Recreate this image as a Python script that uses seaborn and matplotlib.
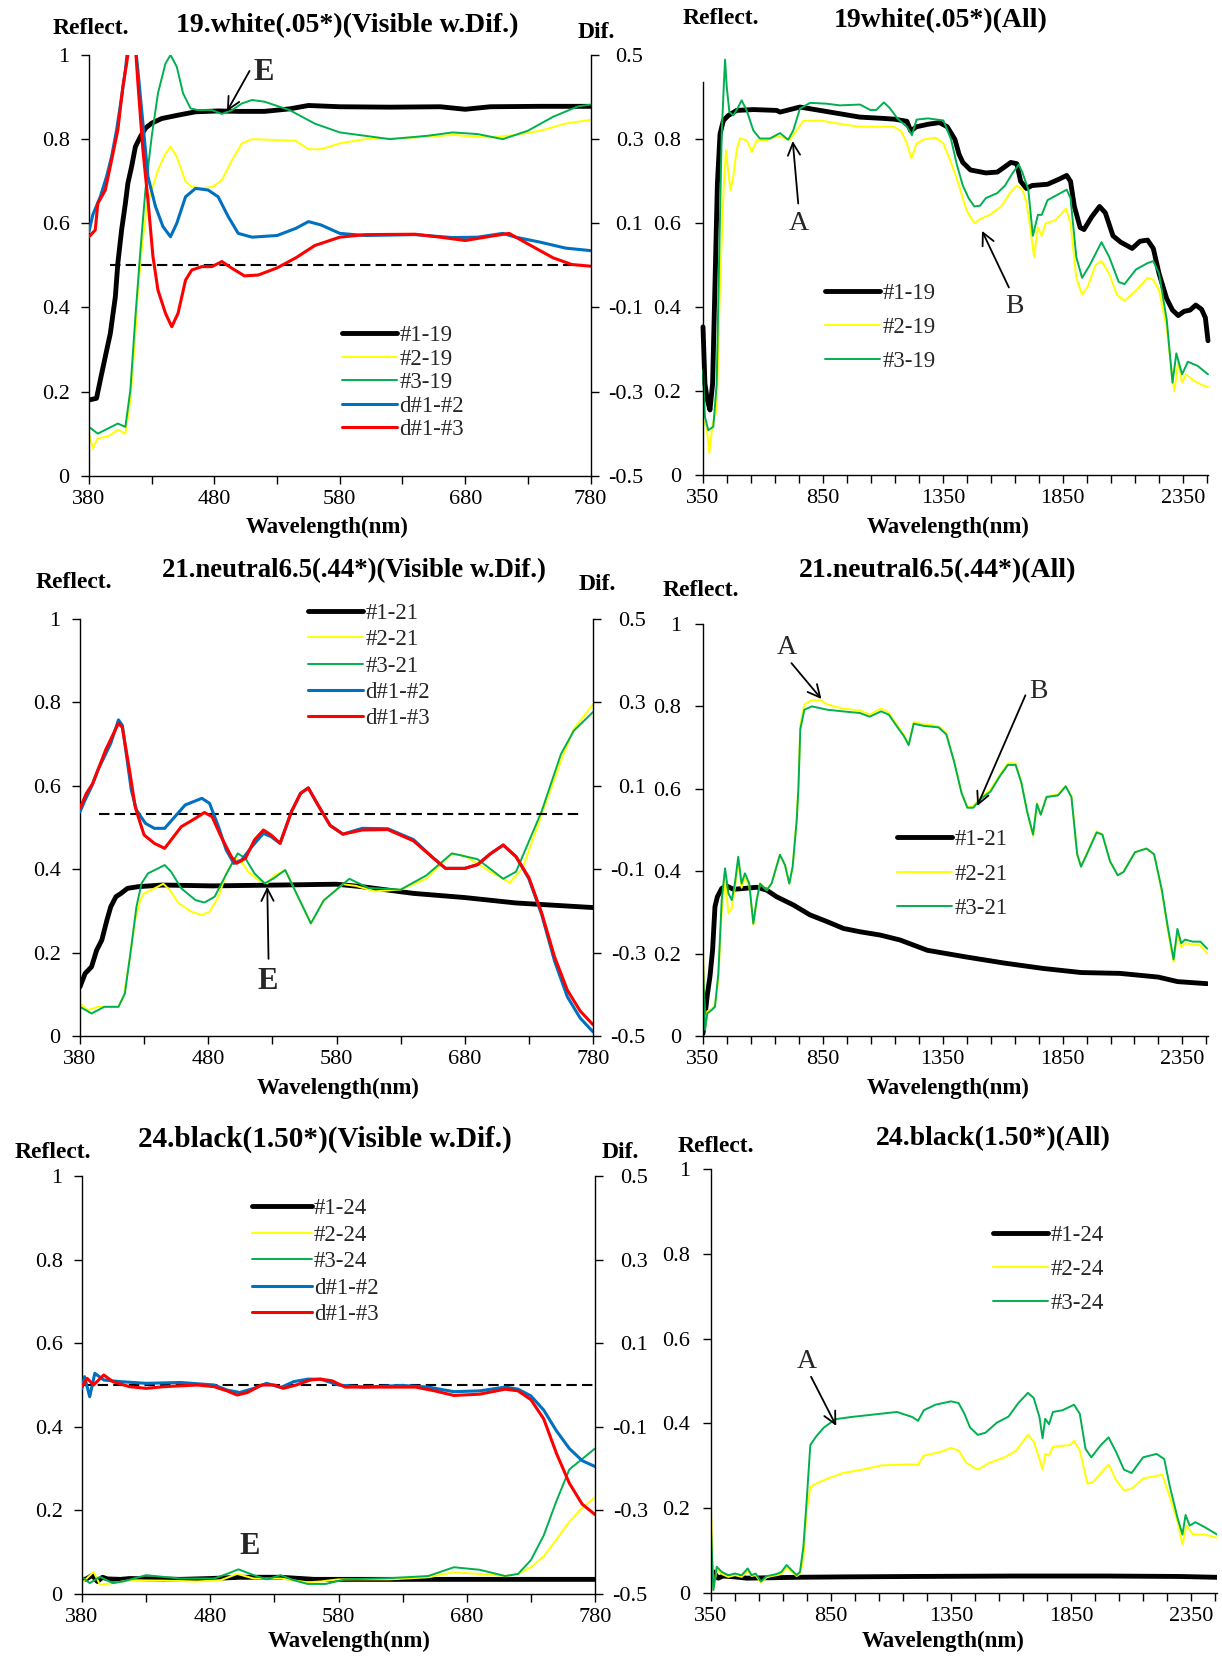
import matplotlib
matplotlib.use("Agg")
import matplotlib.pyplot as plt
import seaborn as sns

W, H = 1222, 1657
SERIF = ["Liberation Serif", "DejaVu Serif"]

C_BLACK, C_YELLOW, C_GREEN = "#000000", "#FFFF00", "#00B050"
C_BLUE, C_RED = "#0070C0", "#FF0000"

# ---------------- tick labels ----------------
vis_ticks = [380, 430, 480, 530, 580, 630, 680, 730, 780]
vis_labels = ["380", "", "480", "", "580", "", "680", "", "780"]
all_ticks = list(range(350, 2451, 100))
all_labels = ["350", "", "", "", "", "850", "", "", "", "", "1350", "", "", "", "",
              "1850", "", "", "", "", "2350", ""]
refl_ticks = [0, 0.2, 0.4, 0.6, 0.8, 1.0]
refl_labels = ["0", "0.2", "0.4", "0.6", "0.8", "1"]
dif_ticks = [-0.5, -0.3, -0.1, 0.1, 0.3, 0.5]
dif_labels = ["-0.5", "-0.3", "-0.1", "0.1", "0.3", "0.5"]

# ---------------- 19 white, visible ----------------
w19_k1_wl = [380, 386, 389, 393, 397, 401, 403, 406, 409, 411, 414, 417, 421, 425, 430,
             438, 451, 465, 483, 500, 520, 540, 555, 580, 620, 660, 680, 700, 740, 780]
w19_k1 = [0.18, 0.184, 0.227, 0.283, 0.338, 0.425, 0.505, 0.584, 0.647, 0.695, 0.735, 0.782, 0.806, 0.826, 0.838,
          0.849, 0.857, 0.865, 0.867, 0.866, 0.866, 0.872, 0.88, 0.877, 0.876, 0.877, 0.871, 0.877, 0.878, 0.878]
w19_k2_wl = [380, 383, 387, 395, 403, 409, 413, 417, 419, 422, 426, 430, 435, 441, 445,
             450, 457, 462, 469, 479, 486, 494, 502, 510, 530, 545, 555, 565, 580, 600,
             640, 670, 700, 720, 740, 760, 780]
w19_k2 = [0.10, 0.065, 0.089, 0.093, 0.109, 0.10, 0.18, 0.338, 0.441, 0.536, 0.639, 0.679, 0.727, 0.766, 0.782,
          0.758, 0.699, 0.687, 0.683, 0.687, 0.703, 0.75, 0.79, 0.80, 0.798, 0.796, 0.776, 0.776, 0.79, 0.80,
          0.804, 0.81, 0.804, 0.81, 0.82, 0.837, 0.846]
w19_k3_wl = [380, 387, 393, 403, 409, 413, 417, 421, 425, 430, 435, 441, 445, 450, 455,
             461, 467, 478, 486, 494, 502, 510, 520, 540, 560, 580, 600, 620, 650, 670,
             690, 710, 730, 750, 770, 780]
w19_k3 = [0.116, 0.10, 0.109, 0.124, 0.116, 0.204, 0.378, 0.536, 0.679, 0.806, 0.909, 0.98, 1.0, 0.972, 0.909,
          0.873, 0.869, 0.869, 0.86, 0.869, 0.885, 0.893, 0.889, 0.869, 0.837, 0.816, 0.808, 0.80, 0.808, 0.816,
          0.812, 0.80, 0.82, 0.853, 0.878, 0.882]
w19_d12_wl = [380, 383, 389, 394, 398, 402, 406, 409, 411, 417, 419, 423, 427, 433, 439,
              445, 450, 457, 465, 475, 483, 491, 499, 510, 530, 545, 555, 565, 580, 600,
              640, 670, 690, 710, 720, 740, 760, 780]
w19_d12 = [0.08, 0.12, 0.163, 0.211, 0.258, 0.322, 0.40, 0.464, 0.52, 0.52, 0.464, 0.338, 0.211, 0.14, 0.092,
           0.068, 0.10, 0.163, 0.183, 0.179, 0.163, 0.116, 0.076, 0.067, 0.071, 0.088, 0.104, 0.096, 0.076, 0.071,
           0.073, 0.066, 0.067, 0.076, 0.067, 0.055, 0.041, 0.035]
w19_d13_wl = [380, 385, 387, 393, 398, 403, 407, 410, 412, 417, 419, 423, 427, 431, 435,
              441, 446, 451, 457, 462, 470, 478, 486, 494, 504, 515, 530, 545, 560, 580,
              600, 640, 660, 680, 700, 715, 730, 750, 765, 780]
w19_d13 = [0.068, 0.084, 0.147, 0.179, 0.25, 0.322, 0.425, 0.48, 0.52, 0.52, 0.433, 0.274, 0.155, 0.021, -0.059,
           -0.114, -0.146, -0.114, -0.035, -0.011, -0.003, -0.003, 0.009, -0.007, -0.025, -0.023, -0.006, 0.018, 0.047, 0.067,
           0.073, 0.074, 0.067, 0.059, 0.069, 0.076, 0.051, 0.018, 0.002, -0.002]

# ---------------- 19 white, all ----------------
a19_k1_wl = [350, 358, 368, 379, 390, 400, 410, 421, 435, 456, 490, 560, 657, 671, 754,
             838, 921, 1004, 1100, 1150, 1200, 1216, 1240, 1288, 1336, 1368, 1400, 1417, 1433, 1465,
             1529, 1577, 1609, 1633, 1658, 1674, 1698, 1722, 1786, 1834, 1866, 1882, 1898, 1922, 1938,
             1970, 2003, 2027, 2059, 2091, 2139, 2171, 2203, 2227, 2251, 2283, 2307, 2331, 2355, 2380,
             2404, 2428, 2444, 2455]
a19_k1 = [0.353, 0.218, 0.179, 0.155, 0.218, 0.456, 0.694, 0.813, 0.845, 0.857, 0.869, 0.871, 0.869, 0.865, 0.877,
          0.869, 0.861, 0.853, 0.85, 0.848, 0.843, 0.82, 0.83, 0.836, 0.84, 0.83, 0.80, 0.765, 0.745, 0.727,
          0.72, 0.722, 0.735, 0.745, 0.742, 0.70, 0.683, 0.69, 0.693, 0.705, 0.714, 0.70, 0.64, 0.59, 0.585,
          0.615, 0.64, 0.625, 0.57, 0.555, 0.54, 0.557, 0.56, 0.54, 0.48, 0.42, 0.393, 0.38, 0.39, 0.393,
          0.405, 0.395, 0.375, 0.32]
a19_k2_wl = [350, 365, 376, 390, 407, 421, 437, 446, 456, 465, 476, 490, 504, 532, 553,
             574, 615, 657, 685, 712, 740, 768, 838, 921, 990, 1048, 1144, 1176, 1200, 1219,
             1240, 1272, 1320, 1352, 1384, 1417, 1449, 1481, 1505, 1545, 1593, 1633, 1658, 1682, 1698,
             1714, 1730, 1746, 1762, 1778, 1818, 1863, 1882, 1906, 1930, 1954, 1986, 2011, 2043, 2075,
             2107, 2155, 2203, 2227, 2251, 2283, 2307, 2315, 2331, 2347, 2363, 2395, 2428, 2455]
a19_k2 = [0.131, 0.115, 0.052, 0.123, 0.155, 0.456, 0.694, 0.774, 0.718, 0.679, 0.71, 0.774, 0.802, 0.798, 0.77,
          0.798, 0.798, 0.807, 0.804, 0.799, 0.821, 0.844, 0.845, 0.837, 0.831, 0.83, 0.83, 0.82, 0.79, 0.755,
          0.79, 0.80, 0.804, 0.79, 0.745, 0.69, 0.63, 0.60, 0.61, 0.62, 0.64, 0.675, 0.69, 0.68, 0.65,
          0.59, 0.52, 0.59, 0.57, 0.60, 0.607, 0.635, 0.60, 0.47, 0.43, 0.45, 0.50, 0.51, 0.48, 0.43,
          0.415, 0.44, 0.47, 0.465, 0.44, 0.35, 0.23, 0.20, 0.27, 0.22, 0.24, 0.225, 0.215, 0.21]
a19_k3_wl = [350, 358, 372, 393, 407, 418, 428, 437, 442, 449, 460, 476, 493, 511, 532,
             560, 587, 629, 671, 705, 726, 754, 796, 865, 921, 1004, 1048, 1072, 1104, 1128,
             1160, 1200, 1221, 1240, 1288, 1352, 1384, 1408, 1433, 1457, 1481, 1505, 1529, 1577, 1609,
             1641, 1666, 1682, 1706, 1725, 1746, 1762, 1786, 1834, 1866, 1882, 1906, 1930, 1962, 2011,
             2043, 2083, 2107, 2155, 2203, 2227, 2251, 2283, 2307, 2323, 2347, 2371, 2412, 2455]
a19_k3 = [0.25, 0.139, 0.107, 0.115, 0.218, 0.536, 0.813, 0.932, 0.99, 0.925, 0.865, 0.857, 0.873, 0.893, 0.869,
          0.821, 0.802, 0.802, 0.815, 0.799, 0.821, 0.873, 0.887, 0.885, 0.881, 0.883, 0.87, 0.87, 0.888, 0.875,
          0.85, 0.83, 0.81, 0.847, 0.85, 0.845, 0.80, 0.74, 0.69, 0.66, 0.64, 0.642, 0.66, 0.672, 0.69,
          0.72, 0.74, 0.72, 0.68, 0.57, 0.62, 0.62, 0.655, 0.67, 0.68, 0.66, 0.52, 0.47, 0.50, 0.555,
          0.52, 0.46, 0.455, 0.49, 0.505, 0.51, 0.48, 0.37, 0.22, 0.29, 0.24, 0.27, 0.26, 0.24]

# ---------------- 21 neutral 6.5, visible ----------------
n21_k1_wl = [380, 384, 389, 393, 397, 401, 404, 408, 412, 417, 425, 444, 483, 535, 580, 600, 640, 680, 720, 780]
n21_k1 = [0.118, 0.15, 0.166, 0.206, 0.23, 0.278, 0.31, 0.334, 0.342, 0.354,
          0.358, 0.362, 0.36, 0.362, 0.364, 0.358, 0.342, 0.332, 0.319, 0.308]
n21_k2_wl = [380, 386, 394, 404, 410, 414, 419, 423, 427, 430, 438, 445, 450, 457, 467,
             475, 481, 488, 494, 501, 506, 511, 519, 526, 532, 540, 550, 560, 570, 585,
             595, 610, 630, 650, 670, 680, 700, 715, 725, 740, 755, 765, 780]
n21_k2 = [0.078, 0.062, 0.07, 0.07, 0.07, 0.094, 0.19, 0.278, 0.326, 0.342, 0.354, 0.365, 0.35, 0.318, 0.298,
          0.29, 0.298, 0.334, 0.39, 0.426, 0.418, 0.394, 0.374, 0.366, 0.386, 0.398, 0.334, 0.27, 0.325, 0.364,
          0.36, 0.347, 0.351, 0.377, 0.437, 0.432, 0.394, 0.368, 0.402, 0.531, 0.66, 0.736, 0.795]
n21_k3_wl = [380, 389, 399, 410, 415, 420, 424, 428, 433, 441, 446, 451, 459, 470, 477,
             485, 493, 500, 503, 509, 516, 524, 531, 540, 550, 560, 570, 590, 605, 630,
             650, 670, 690, 710, 720, 740, 755, 765, 780]
n21_k3 = [0.07, 0.054, 0.07, 0.07, 0.102, 0.214, 0.31, 0.366, 0.39, 0.402, 0.41, 0.394, 0.354, 0.326, 0.32,
          0.334, 0.382, 0.422, 0.438, 0.426, 0.39, 0.366, 0.378, 0.398, 0.334, 0.27, 0.325, 0.377, 0.355, 0.351,
          0.385, 0.438, 0.424, 0.377, 0.394, 0.539, 0.676, 0.732, 0.777]
n21_d12_wl = [380, 384, 389, 394, 399, 404, 410, 413, 420, 424, 431, 438, 446, 454, 462,
              475, 481, 488, 494, 500, 506, 514, 523, 529, 536, 545, 552, 558, 565, 575,
              585, 600, 620, 640, 655, 665, 680, 690, 700, 710, 720, 730, 740, 750, 760,
              770, 780]
n21_d12 = [0.038, 0.066, 0.098, 0.138, 0.17, 0.202, 0.258, 0.245, 0.09, 0.042, 0.01, -0.002, -0.002, 0.026, 0.054,
           0.07, 0.058, 0.002, -0.054, -0.086, -0.078, -0.046, -0.014, -0.022, -0.038, 0.039, 0.082, 0.095, 0.057, 0.005,
           -0.016, -0.002, -0.003, -0.029, -0.072, -0.098, -0.098, -0.089, -0.063, -0.042, -0.07, -0.123, -0.209, -0.32, -0.406,
           -0.457, -0.49]
n21_d13_wl = [380, 385, 390, 395, 400, 410, 413, 419, 423, 427, 430, 438, 446, 451, 459,
              470, 477, 483, 490, 498, 502, 509, 516, 523, 529, 536, 545, 552, 558, 565,
              575, 585, 600, 620, 640, 655, 665, 680, 690, 700, 710, 720, 730, 740, 750,
              760, 770, 780]
n21_d13 = [0.046, 0.082, 0.106, 0.146, 0.186, 0.25, 0.24, 0.13, 0.05, 0.01, -0.018, -0.038, -0.05, -0.03, 0.002,
           0.022, 0.036, 0.026, -0.022, -0.07, -0.086, -0.074, -0.03, -0.006, -0.018, -0.038, 0.039, 0.082, 0.095, 0.057,
           0.005, -0.016, -0.006, -0.005, -0.032, -0.072, -0.098, -0.098, -0.089, -0.063, -0.042, -0.07, -0.12, -0.205, -0.31,
           -0.39, -0.44, -0.473]

# ---------------- 21 neutral 6.5, all ----------------
m21_k1_wl = [350, 358, 368, 379, 390, 400, 410, 428, 449, 477, 518, 574, 616, 657, 727,
             796, 866, 936, 1005, 1089, 1172, 1286, 1446, 1607, 1768, 1928, 2089, 2249, 2330, 2453]
m21_k1 = [0.006, 0.047, 0.10, 0.144, 0.209, 0.314, 0.338, 0.358, 0.364, 0.356, 0.358, 0.361, 0.354, 0.338, 0.318,
          0.294, 0.278, 0.261, 0.253, 0.245, 0.233, 0.208, 0.192, 0.177, 0.164, 0.154, 0.152, 0.143, 0.132, 0.127]
m21_k2_wl = [350, 358, 368, 386, 400, 414, 428, 442, 456, 470, 483, 497, 511, 525, 543,
             560, 574, 588, 602, 616, 636, 671, 692, 710, 724, 741, 748, 756, 773, 804,
             840, 868, 932, 1005, 1045, 1093, 1125, 1157, 1189, 1208, 1229, 1269, 1333, 1365, 1397,
             1429, 1453, 1477, 1509, 1549, 1590, 1622, 1654, 1678, 1702, 1727, 1743, 1759, 1783, 1831,
             1863, 1887, 1911, 1927, 1951, 1992, 2016, 2048, 2080, 2104, 2152, 2200, 2232, 2264, 2288,
             2313, 2329, 2345, 2361, 2393, 2425, 2453]
m21_k2 = [0.21, 0.02, 0.06, 0.065, 0.075, 0.14, 0.30, 0.38, 0.298, 0.31, 0.36, 0.42, 0.36, 0.385, 0.365,
          0.27, 0.33, 0.37, 0.362, 0.354, 0.37, 0.44, 0.415, 0.37, 0.411, 0.53, 0.61, 0.755, 0.805, 0.815,
          0.815, 0.805, 0.795, 0.79, 0.78, 0.795, 0.785, 0.757, 0.73, 0.708, 0.762, 0.757, 0.752, 0.735, 0.668,
          0.59, 0.556, 0.558, 0.58, 0.598, 0.636, 0.662, 0.662, 0.617, 0.545, 0.485, 0.565, 0.537, 0.582, 0.586,
          0.607, 0.582, 0.441, 0.411, 0.443, 0.497, 0.49, 0.424, 0.39, 0.398, 0.446, 0.455, 0.441, 0.35, 0.26,
          0.18, 0.25, 0.215, 0.225, 0.222, 0.22, 0.20]
m21_k3_wl = [350, 358, 368, 386, 400, 414, 428, 442, 456, 470, 483, 497, 511, 525, 543,
             560, 574, 588, 602, 616, 636, 671, 692, 710, 724, 741, 748, 756, 773, 804,
             868, 932, 1005, 1045, 1093, 1125, 1157, 1189, 1208, 1229, 1269, 1333, 1365, 1397, 1429,
             1453, 1477, 1509, 1549, 1590, 1622, 1654, 1678, 1702, 1727, 1743, 1759, 1783, 1831, 1863,
             1887, 1911, 1927, 1951, 1992, 2016, 2048, 2080, 2104, 2152, 2200, 2232, 2264, 2288, 2313,
             2329, 2345, 2361, 2393, 2425, 2453]
m21_k3 = [0.18, 0.015, 0.055, 0.063, 0.071, 0.152, 0.33, 0.407, 0.346, 0.33, 0.37, 0.435, 0.37, 0.395, 0.37,
          0.273, 0.33, 0.37, 0.362, 0.354, 0.37, 0.44, 0.415, 0.37, 0.411, 0.524, 0.60, 0.745, 0.792, 0.80,
          0.792, 0.788, 0.784, 0.775, 0.788, 0.78, 0.753, 0.727, 0.706, 0.758, 0.753, 0.749, 0.732, 0.667, 0.589,
          0.554, 0.554, 0.576, 0.593, 0.632, 0.658, 0.658, 0.615, 0.545, 0.489, 0.563, 0.537, 0.58, 0.584, 0.606,
          0.58, 0.441, 0.411, 0.441, 0.494, 0.489, 0.424, 0.39, 0.398, 0.446, 0.455, 0.441, 0.355, 0.268, 0.186,
          0.26, 0.225, 0.234, 0.229, 0.229, 0.212]

# ---------------- 24 black, visible ----------------
b24_k1_wl = [380, 384, 388, 392, 396, 400, 410, 417, 440, 457, 480, 503, 535, 561, 600, 650, 700, 740, 780]
b24_k1 = [0.033, 0.037, 0.045, 0.03, 0.04, 0.036, 0.035, 0.037, 0.036, 0.035,
          0.037, 0.04, 0.04, 0.035, 0.035, 0.035, 0.035, 0.035, 0.035]
b24_k2_wl = [380, 389, 394, 404, 417, 444, 470, 488, 501, 514, 535, 556, 566, 580, 620,
             650, 670, 690, 710, 720, 730, 740, 750, 760, 770, 780]
b24_k2 = [0.026, 0.053, 0.022, 0.026, 0.033, 0.032, 0.03, 0.033, 0.048, 0.037, 0.037, 0.028, 0.03, 0.035, 0.035,
          0.04, 0.052, 0.048, 0.043, 0.048, 0.064, 0.09, 0.131, 0.173, 0.206, 0.231]
b24_k3_wl = [380, 386, 394, 404, 412, 430, 457, 483, 493, 502, 514, 524, 535, 545, 556,
             570, 585, 620, 650, 670, 690, 710, 720, 730, 740, 750, 760, 770, 780]
b24_k3 = [0.041, 0.026, 0.041, 0.026, 0.03, 0.045, 0.037, 0.037, 0.048, 0.059, 0.045, 0.035, 0.045, 0.033, 0.024,
          0.024, 0.035, 0.038, 0.043, 0.064, 0.058, 0.043, 0.048, 0.081, 0.14, 0.223, 0.298, 0.323, 0.348]
b24_d12_wl = [380, 382, 386, 390, 397, 410, 430, 457, 483, 493, 503, 514, 524, 535, 545,
              556, 566, 580, 600, 630, 650, 670, 690, 710, 720, 730, 740, 750, 760, 770, 780]
b24_d12 = [-0.008, 0.02, -0.028, 0.028, 0.012, 0.008, 0.004, 0.006, 0.0, -0.012, -0.018, -0.008, 0.004, -0.006, 0.008,
           0.014, 0.014, 0.0, -0.005, -0.001, -0.005, -0.016, -0.014, -0.005, -0.01, -0.026, -0.06, -0.11, -0.152, -0.181,
           -0.195]
b24_d13_wl = [380, 384, 389, 397, 404, 417, 430, 444, 470, 483, 493, 501, 509, 520, 530,
              537, 547, 558, 566, 575, 585, 610, 640, 655, 670, 690, 710, 720, 730, 740,
              750, 760, 770, 780]
b24_d13 = [-0.004, 0.016, 0.0, 0.024, 0.008, -0.004, -0.008, -0.004, 0.0, -0.004, -0.014, -0.024, -0.018, 0.0, 0.0,
           -0.008, 0.0, 0.012, 0.014, 0.01, -0.005, -0.005, -0.005, -0.014, -0.025, -0.022, -0.01, -0.014, -0.035, -0.081,
           -0.164, -0.235, -0.285, -0.31]

# ---------------- 24 black, all ----------------
c24_k1_wl = [350, 360, 380, 400, 450, 500, 600, 700, 900, 1200, 1600, 2000, 2300, 2459]
c24_k1 = [0.03, 0.05, 0.035, 0.04, 0.038, 0.035, 0.036, 0.037, 0.038, 0.039, 0.04, 0.04, 0.039, 0.037]
c24_k2_wl = [350, 360, 374, 394, 422, 450, 478, 503, 519, 536, 558, 582, 603, 624, 644,
             665, 686, 707, 721, 735, 748, 764, 788, 836, 900, 981, 1061, 1157, 1213, 1237,
             1301, 1350, 1382, 1414, 1462, 1510, 1574, 1622, 1671, 1695, 1719, 1732, 1743, 1759, 1775,
             1847, 1863, 1887, 1919, 1943, 2007, 2039, 2071, 2103, 2151, 2231, 2263, 2295, 2315, 2331,
             2360, 2409, 2459]
c24_k2 = [0.20, 0.01, 0.055, 0.045, 0.038, 0.042, 0.038, 0.052, 0.04, 0.042, 0.025, 0.037, 0.04, 0.042, 0.045,
          0.06, 0.05, 0.04, 0.045, 0.08, 0.19, 0.25, 0.258, 0.27, 0.283, 0.291, 0.301, 0.303, 0.303, 0.324,
          0.332, 0.342, 0.336, 0.307, 0.291, 0.307, 0.32, 0.336, 0.373, 0.357, 0.316, 0.291, 0.328, 0.324, 0.345,
          0.349, 0.359, 0.336, 0.258, 0.262, 0.303, 0.266, 0.242, 0.246, 0.27, 0.279, 0.225, 0.167, 0.114, 0.159,
          0.138, 0.138, 0.13]
c24_k3_wl = [350, 360, 374, 394, 422, 450, 478, 503, 519, 536, 558, 582, 603, 624, 644,
             665, 686, 707, 721, 735, 749, 764, 788, 820, 869, 933, 997, 1061, 1125, 1189,
             1213, 1237, 1285, 1350, 1382, 1406, 1430, 1462, 1494, 1542, 1590, 1631, 1671, 1695, 1719,
             1732, 1743, 1759, 1775, 1815, 1863, 1887, 1911, 1935, 1975, 2007, 2039, 2071, 2103, 2151,
             2207, 2239, 2263, 2295, 2315, 2328, 2345, 2369, 2409, 2459]
c24_k3 = [0.15, 0.007, 0.062, 0.05, 0.042, 0.046, 0.042, 0.058, 0.042, 0.046, 0.027, 0.04, 0.042, 0.045, 0.05,
          0.066, 0.054, 0.042, 0.05, 0.109, 0.22, 0.349, 0.369, 0.39, 0.41, 0.415, 0.419, 0.423, 0.427, 0.415,
          0.406, 0.431, 0.444, 0.452, 0.448, 0.423, 0.39, 0.373, 0.378, 0.402, 0.416, 0.448, 0.472, 0.46, 0.415,
          0.365, 0.411, 0.398, 0.427, 0.431, 0.444, 0.423, 0.34, 0.32, 0.349, 0.367, 0.332, 0.291, 0.283, 0.32,
          0.328, 0.316, 0.25, 0.176, 0.138, 0.184, 0.159, 0.167, 0.155, 0.138]

# ---------------- style ----------------
sns.set_theme(style="ticks", rc={"axes.edgecolor": "black", "xtick.color": "black",
                                 "ytick.color": "black", "axes.linewidth": 1.0})
plt.rcParams["font.family"] = SERIF

fig = plt.figure(figsize=(W / 100, H / 100), dpi=100)
fig.patch.set_facecolor("white")

TICK_SIZE = 16
LEG_SIZE = 16.5


def px_rect(l, t, r, b):
    return [l / W, 1 - b / H, (r - l) / W, (b - t) / H]


def ftext(px, py, s, size, bold=True, **kw):
    fig.text(px / W, 1 - py / H, s, ha="center", va="center", fontsize=size,
             fontweight="bold" if bold else "normal", family=SERIF, color="black", **kw)


def make_axes(rect, xlim, xticks, xlabels, ylim, ypad):
    ax = fig.add_axes(rect)
    ax.set_xlim(*xlim)
    ax.set_ylim(*ylim)
    ax.set_xticks(xticks)
    ax.set_xticklabels(xlabels)
    yt = [v for v in refl_ticks if v <= ylim[1] + 1e-9]
    ax.set_yticks(yt)
    ax.set_yticklabels(refl_labels[:len(yt)])
    for s in ("top", "right"):
        ax.spines[s].set_visible(False)
    ax.tick_params(axis="both", direction="out", length=6, width=1, labelsize=TICK_SIZE)
    ax.tick_params(axis="y", pad=ypad)
    ax.tick_params(axis="x", pad=4)
    ax.set_facecolor("none")
    return ax


def make_dif(ax):
    ax2 = ax.twinx()
    ax2.set_ylim(-0.5, 0.5)
    ax2.set_yticks(dif_ticks)
    ax2.set_yticklabels(dif_labels)
    for s in ("top", "left", "bottom"):
        ax2.spines[s].set_visible(False)
    ax2.tick_params(axis="y", direction="out", length=6, width=1, labelsize=TICK_SIZE, pad=32)
    for t in ax2.get_yticklabels():
        t.set_horizontalalignment("right")
    return ax2


def line(ax, x, y, color, lw, label, clip=True):
    sns.lineplot(x=x, y=y, ax=ax, color=color, lw=lw, label=label, legend=False,
                 estimator=None, errorbar=None, clip_on=clip)


def arrow(ax, tail, tip):
    ax.annotate("", xy=tip, xytext=tail,
                arrowprops=dict(arrowstyle="->", color="black", lw=1.3,
                                mutation_scale=22, shrinkA=0, shrinkB=0))


def legend(ax, handles, labels, px, py, spacing, hlen=2.4):
    ax.legend(handles, labels, loc="upper left", bbox_to_anchor=(px / W, 1 - py / H),
              bbox_transform=fig.transFigure, frameon=False, borderpad=0, borderaxespad=0,
              handlelength=hlen, handletextpad=0.1, labelspacing=spacing,
              prop={"family": SERIF, "size": LEG_SIZE})


LW_K, LW_D, LW_T = 3.5, 2.2, 1.4

# ---------------- panel 1 ----------------
ax = make_axes(px_rect(89, 55, 590.6, 475.7), (380, 780), vis_ticks, vis_labels, (0, 1), 8)
line(ax, w19_k1_wl, w19_k1, C_BLACK, LW_K, "#1-19")
line(ax, w19_k2_wl, w19_k2, C_YELLOW, LW_T, "#2-19")
line(ax, w19_k3_wl, w19_k3, C_GREEN, LW_T, "#3-19")
ax2 = make_dif(ax)
ax2.hlines(0.0, 397, 773, colors="black", linestyles=(0, (5, 2.5)), lw=1.5)
line(ax2, w19_d12_wl, w19_d12, C_BLUE, LW_D, "d#1-#2")
line(ax2, w19_d13_wl, w19_d13, C_RED, LW_D, "d#1-#3")
arrow(ax, (508, 0.962), (490, 0.866))
ax.text(519, 0.958, "E", fontsize=22, fontweight="bold", ha="center", va="center")
h1, l1 = ax.get_legend_handles_labels()
h2, l2 = ax2.get_legend_handles_labels()
legend(ax2, h1 + h2, l1 + l2, 342, 325, 0.11)

# ---------------- panel 2 ----------------
ax = make_axes(px_rect(703, 82.3, 1208, 475), (350, 2455), all_ticks, all_labels, (0, 0.936), 10)
line(ax, a19_k1_wl, a19_k1, C_BLACK, LW_K, "#1-19", clip=False)
line(ax, a19_k2_wl, a19_k2, C_YELLOW, LW_T, "#2-19", clip=False)
line(ax, a19_k3_wl, a19_k3, C_GREEN, LW_T, "#3-19", clip=False)
arrow(ax, (747, 0.647), (724, 0.796))
ax.text(751, 0.600, "A", fontsize=20, ha="center", va="center")
arrow(ax, (1625, 0.447), (1513, 0.582))
ax.text(1649, 0.401, "B", fontsize=20, ha="center", va="center")
h1, l1 = ax.get_legend_handles_labels()
legend(ax, h1, l1, 825, 283, 0.56)

# ---------------- panel 3 ----------------
ax = make_axes(px_rect(80, 619, 593, 1036), (380, 780), vis_ticks, vis_labels, (0, 1), 8)
line(ax, n21_k1_wl, n21_k1, C_BLACK, LW_K, "#1-21")
line(ax, n21_k2_wl, n21_k2, C_YELLOW, LW_T, "#2-21")
line(ax, n21_k3_wl, n21_k3, C_GREEN, LW_T, "#3-21")
ax2 = make_dif(ax)
ax2.hlines(0.032, 395, 769, colors="black", linestyles=(0, (5, 2.5)), lw=1.5)
line(ax2, n21_d12_wl, n21_d12, C_BLUE, LW_D, "d#1-#2")
line(ax2, n21_d13_wl, n21_d13, C_RED, LW_D, "d#1-#3")
arrow(ax, (527, 0.185), (526, 0.358))
ax.text(526, 0.13, "E", fontsize=22, fontweight="bold", ha="center", va="center")
h1, l1 = ax.get_legend_handles_labels()
h2, l2 = ax2.get_legend_handles_labels()
legend(ax2, h1 + h2, l1 + l2, 308, 603, 0.23)

# ---------------- panel 4 ----------------
ax = make_axes(px_rect(703, 624, 1207.6, 1036), (350, 2455), all_ticks, all_labels, (0, 1), 10)
line(ax, m21_k1_wl, m21_k1, C_BLACK, LW_K, "#1-21")
line(ax, m21_k2_wl, m21_k2, C_YELLOW, LW_T, "#2-21")
line(ax, m21_k3_wl, m21_k3, C_GREEN, LW_T, "#3-21")
arrow(ax, (719, 0.905), (844, 0.818))
ax.text(700, 0.944, "A", fontsize=20, ha="center", va="center")
arrow(ax, (1695, 0.827), (1494, 0.558))
ax.text(1748, 0.835, "B", fontsize=20, ha="center", va="center")
h1, l1 = ax.get_legend_handles_labels()
legend(ax, h1, l1, 897, 829, 0.59)

# ---------------- panel 5 ----------------
ax = make_axes(px_rect(82, 1176, 595, 1594), (380, 780), vis_ticks, vis_labels, (0, 1), 8)
line(ax, b24_k1_wl, b24_k1, C_BLACK, LW_K, "#1-24")
line(ax, b24_k2_wl, b24_k2, C_YELLOW, LW_T, "#2-24")
line(ax, b24_k3_wl, b24_k3, C_GREEN, LW_T, "#3-24")
ax2 = make_dif(ax)
ax2.hlines(0.0, 380, 780, colors="black", linestyles=(0, (5, 2.5)), lw=1.5)
line(ax2, b24_d12_wl, b24_d12, C_BLUE, LW_D, "d#1-#2")
line(ax2, b24_d13_wl, b24_d13, C_RED, LW_D, "d#1-#3")
ax.text(511, 0.113, "E", fontsize=22, fontweight="bold", ha="center", va="center")
h1, l1 = ax.get_legend_handles_labels()
h2, l2 = ax2.get_legend_handles_labels()
legend(ax2, h1 + h2, l1 + l2, 252, 1198, 0.24, hlen=2.6)

# ---------------- panel 6 ----------------
ax = make_axes(px_rect(711, 1169, 1217, 1593), (350, 2459), all_ticks, all_labels, (0, 1), 9)
line(ax, c24_k1_wl, c24_k1, C_BLACK, LW_K, "#1-24")
line(ax, c24_k2_wl, c24_k2, C_YELLOW, LW_T, "#2-24")
line(ax, c24_k3_wl, c24_k3, C_GREEN, LW_T, "#3-24")
arrow(ax, (767, 0.51), (872, 0.394))
ax.text(751, 0.547, "A", fontsize=20, ha="center", va="center")
h1, l1 = ax.get_legend_handles_labels()
legend(ax, h1, l1, 993, 1225, 0.56)

# ---------------- titles and axis captions ----------------
ftext(347, 26, "19.white(.05*)(Visible w.Dif.)", 20)
ftext(941, 21, "19white(.05*)(All)", 20)
ftext(354, 571, "21.neutral6.5(.44*)(Visible w.Dif.)", 19.3)
ftext(938, 571, "21.neutral6.5(.44*)(All)", 20)
ftext(325, 1139, "24.black(1.50*)(Visible w.Dif.)", 21)
ftext(993, 1139, "24.black(1.50*)(All)", 20)

for x, y in [(91, 28), (721, 18), (74, 582), (701, 590), (53, 1152), (716, 1147)]:
    ftext(x, y, "Reflect.", 17)
for x, y in [(596, 33), (597, 584), (620, 1152)]:
    ftext(x, y, "Dif.", 17)
for x, y in [(327, 527), (948, 527), (338, 1088), (948, 1088), (349, 1641), (943, 1641)]:
    ftext(x, y, "Wavelength(nm)", 16.5)

fig.savefig("out.png", dpi=100, facecolor="white")
